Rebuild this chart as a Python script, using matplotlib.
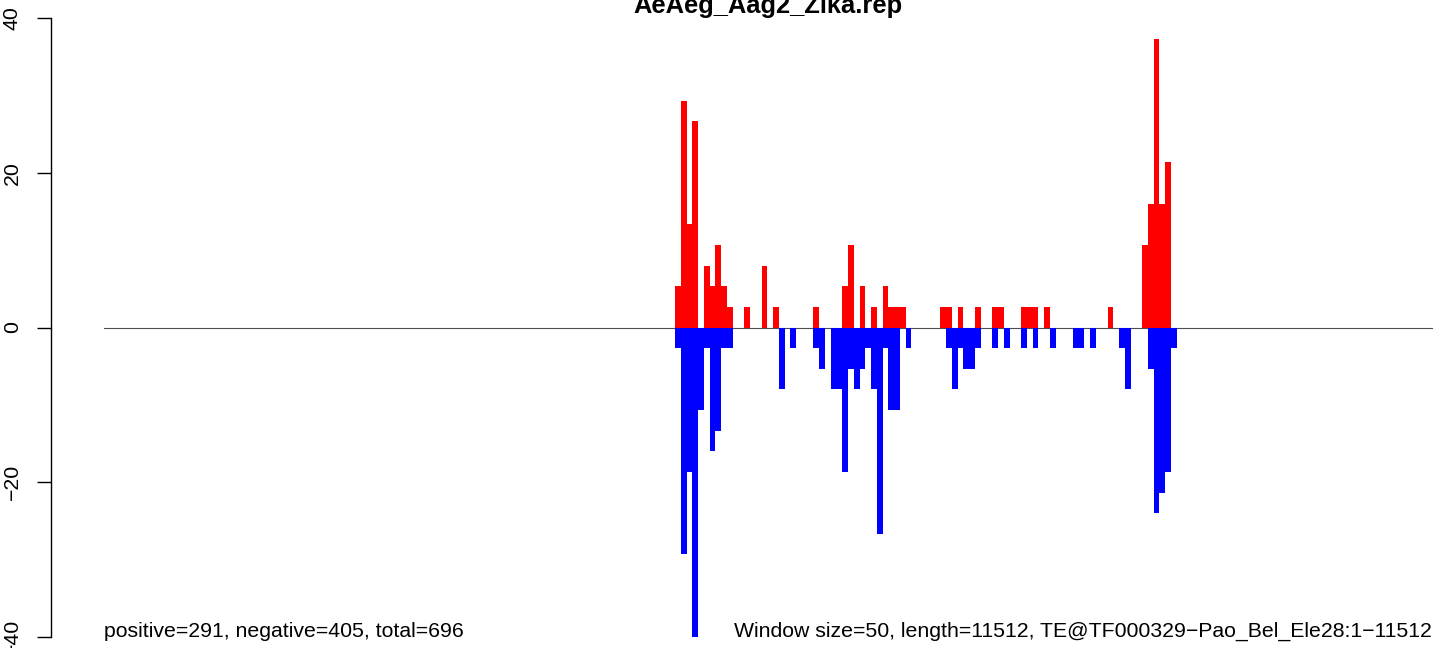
import matplotlib
matplotlib.use("Agg")
import matplotlib.pyplot as plt

plt.rcParams['font.family'] = ['Liberation Sans', 'DejaVu Sans']

title = "AeAeg_Aag2_Zika.rep"
te_length = 11512
window = 50

# window start positions (bp) and normalised read counts per window
pos_starts = [4950, 5000, 5050, 5100, 5200, 5250, 5300, 5350, 5400, 5550, 5700, 5800,
              6150, 6400, 6450, 6550, 6650, 6750, 6800, 6850, 6900, 7250, 7300, 7400,
              7550, 7700, 7750, 7950, 8000, 8050, 8150, 8700, 9000, 9050, 9100, 9150, 9200]
pos_values = [5.33, 29.33, 13.33, 26.67, 8.0, 5.33, 10.67, 5.33, 2.67, 2.67, 8.0, 2.67,
              2.67, 5.33, 10.67, 5.33, 2.67, 5.33, 2.67, 2.67, 2.67, 2.67, 2.67, 2.67,
              2.67, 2.67, 2.67, 2.67, 2.67, 2.67, 2.67, 2.67, 10.67, 16.0, 37.33, 16.0, 21.33]

neg_starts = [4950, 5000, 5050, 5100, 5150, 5200, 5250, 5300, 5350, 5400, 5850, 5950,
              6150, 6200, 6300, 6350, 6400, 6450, 6500, 6550, 6600, 6650, 6700, 6750,
              6800, 6850, 6950, 7300, 7350, 7400, 7450, 7500, 7550, 7700, 7800, 7950,
              8050, 8200, 8400, 8450, 8550, 8800, 8850, 9050, 9100, 9150, 9200, 9250]
neg_values = [-2.67, -29.33, -18.67, -40.0, -10.67, -2.67, -16.0, -13.33, -2.67, -2.67, -8.0, -2.67,
              -2.67, -5.33, -8.0, -8.0, -18.67, -5.33, -8.0, -5.33, -2.67, -8.0, -26.67, -2.67,
              -10.67, -10.67, -2.67, -2.67, -8.0, -2.67, -5.33, -5.33, -2.67, -2.67, -2.67, -2.67,
              -2.67, -2.67, -2.67, -2.67, -2.67, -2.67, -8.0, -5.33, -24.0, -21.33, -18.67, -2.67]

left_note = "positive=291, negative=405, total=696"
right_note = "Window size=50, length=11512, TE@TF000329\u2212Pao_Bel_Ele28:1\u221211512"
yticks = [-40, -20, 0, 20, 40]

W, H = 1444, 648
fig = plt.figure(figsize=(W / 100, H / 100), dpi=100)
# plot region runs 51..1485 px wide (partly off the picture), 18..637 px tall
ax = fig.add_axes([51 / W, (H - 637) / H, 1434 / W, 619 / H])

ax.plot([0, te_length], [0, 0], color='#4d4d4d', lw=0.8, zorder=1)
ax.bar(pos_starts, pos_values, width=window, align='edge', color='#ff0000', lw=0, zorder=2)
ax.bar(neg_starts, neg_values, width=window, align='edge', color='#0000ff', lw=0, zorder=2)

ax.set_xlim(-0.04 * te_length, 1.04 * te_length)
ax.set_ylim(-40, 40)

for s in ['top', 'right', 'bottom']:
    ax.spines[s].set_visible(False)
ax.spines['left'].set_linewidth(1.0)
ax.spines['left'].set_bounds(-40, 40)
ax.set_xticks([])
ax.set_yticks(yticks)
ax.set_yticklabels([str(t).replace('-', '\u2212') for t in yticks],
                   rotation=90, va='center', fontsize=15.3)
ax.tick_params(axis='y', length=10, width=1.0, pad=11)

ax.text(0, -40, left_note, ha='left', va='baseline', fontsize=15.3)
ax.text(te_length, -40, right_note, ha='right', va='baseline', fontsize=15.3)

fig.text((51 + 1434 / 2) / W, 1 - 13 / H, title, ha='center', va='baseline',
         fontsize=18.4, fontweight='bold')

fig.savefig("out.png", dpi=100)
